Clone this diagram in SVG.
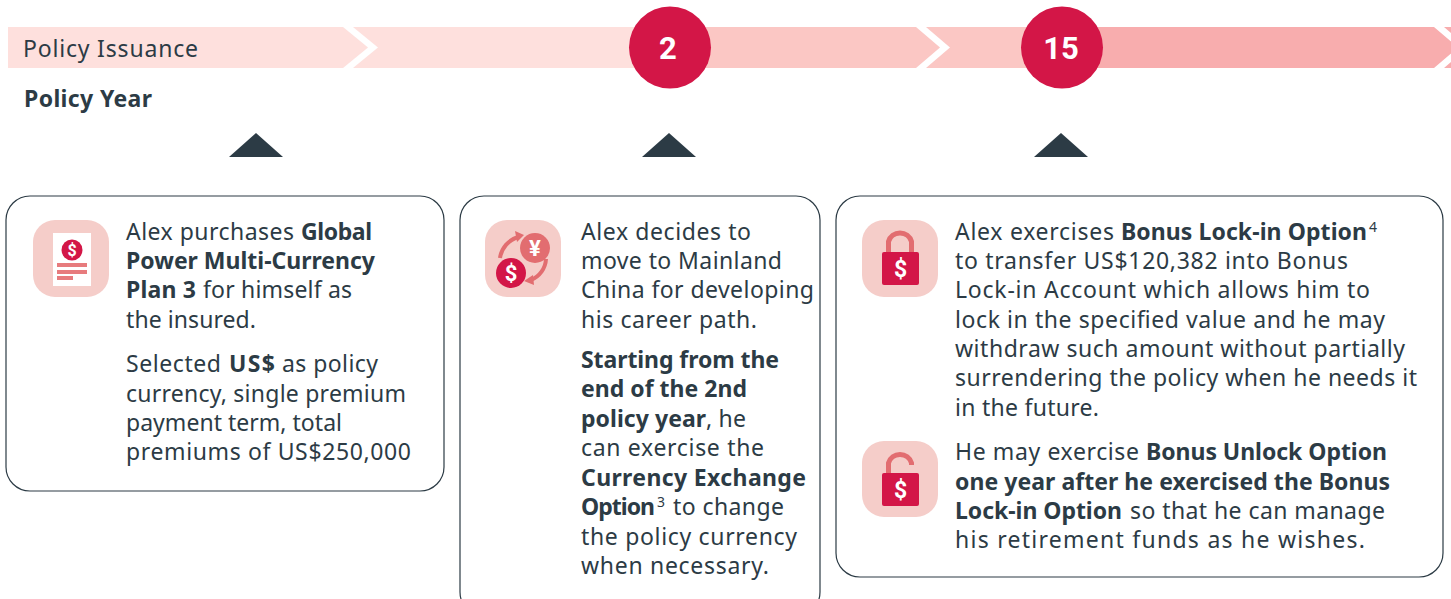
<svg xmlns="http://www.w3.org/2000/svg" width="1451" height="599" viewBox="0 0 1451 599">
<style>
text{font-family:"Noto Sans","Liberation Sans",sans-serif;fill:#2c3b45}
.t{font-size:23px}
.b{font-weight:700}
.s{font-size:14px}
.card{fill:#fff;stroke:#2c3b45;stroke-width:1.2}
.bg{fill:#f5cdc9}
.chev{fill:#fff}
.ptr{fill:#2c3b45}
.red{fill:#d31647}
.mid{fill:#e26d70}
.bar{fill:#e77b7d}
.num{font-family:Roboto,"Liberation Sans",sans-serif;font-size:31px;font-weight:700;fill:#fff;text-anchor:middle}
.d{font-family:Roboto,"Liberation Sans",sans-serif;font-weight:700;fill:#fff;text-anchor:middle}
.shk{fill:none;stroke:#e26d70;stroke-width:5}
.arc{fill:none;stroke:#e26d70;stroke-width:4}
</style>
<g id="timeline">
<rect x="8" y="27" width="662" height="41" fill="#fee0dd"/>
<rect x="670" y="27" width="392" height="41" fill="#fbc7c4"/>
<rect x="1062" y="27" width="389" height="41" fill="#f8adae"/>
<polygon class="chev" points="343,27 353,27 378,47.5 353,68 343,68 368,47.5"/>
<polygon class="chev" points="916,27 926,27 950,47.500 926,68 916,68 940,47.500"/>
<polygon class="chev" points="1434,27 1444,27 1468,47.500 1444,68 1434,68 1458,47.500"/>
<text class="t" x="23" y="57" textLength="175">Policy Issuance</text>
<text class="t b" x="24" y="107" textLength="128">Policy Year</text>
</g>
<g id="marker-2"><circle class="red" cx="670" cy="47.500" r="41"/><text class="num" x="668" y="59">2</text></g>
<g id="marker-15"><circle class="red" cx="1062" cy="47.500" r="41"/><text class="num" x="1061" y="59">15</text></g>
<g id="connectors">
<polygon class="ptr" points="229,157 256,133 283,157"/>
<polygon class="ptr" points="642,157 669,133 696,157"/>
<polygon class="ptr" points="1034,157 1061,133 1088,157"/>
</g>
<g id="card-1">
<rect class="card" x="6" y="196" width="438" height="295" rx="24"/>
<rect class="bg" x="33" y="220" width="76" height="77" rx="22"/>
<rect x="53" y="233" width="38" height="53" fill="#fff"/>
<circle class="red" cx="72" cy="250" r="10.500"/>
<text class="d" x="72" y="256" font-size="16">$</text>
<rect class="bar" x="57" y="263" width="30" height="4"/>
<rect class="bar" x="57" y="270" width="30" height="4"/>
<rect class="bar" x="57" y="276" width="16" height="4"/>
<text class="t" x="126" y="240" textLength="168">Alex purchases</text>
<text class="t b" x="301" y="240" textLength="71">Global</text>
<text class="t b" x="126" y="269" textLength="249">Power Multi-Currency</text>
<text class="t b" x="126" y="298" textLength="70">Plan 3</text>
<text class="t" x="203" y="298" textLength="149">for himself as</text>
<text class="t" x="126" y="328" textLength="130">the insured.</text>
<text class="t" x="126" y="372" textLength="95">Selected</text>
<text class="t b" x="229" y="372" textLength="46">US$</text>
<text class="t" x="282" y="372" textLength="96">as policy</text>
<text class="t" x="126" y="402" textLength="280">currency, single premium</text>
<text class="t" x="126" y="431" textLength="216">payment term, total</text>
<text class="t" x="126" y="460" textLength="285">premiums of US$250,000</text>
</g>
<g id="card-2">
<rect class="card" x="460" y="196" width="360" height="420" rx="24"/>
<rect class="bg" x="485" y="220" width="76" height="77" rx="22"/>
<path class="arc" d="M500 258A26 26 0 0 1 518 237"/>
<polygon class="mid" points="524,235 515,231 517,242"/>
<path class="arc" d="M546 259A24 24 0 0 1 531 280"/>
<polygon class="mid" points="524,281 533,275 534,285"/>
<circle class="mid" cx="535" cy="248" r="15"/>
<text class="d" x="535" y="256" font-size="22">¥</text>
<circle class="red" cx="511" cy="273" r="15"/>
<text class="d" x="511" y="281" font-size="22">$</text>
<text class="t" x="581" y="240" textLength="170">Alex decides to</text>
<text class="t" x="581" y="269" textLength="201">move to Mainland</text>
<text class="t" x="581" y="298" textLength="233">China for developing</text>
<text class="t" x="581" y="328" textLength="176">his career path.</text>
<text class="t b" x="581" y="368" textLength="198">Starting from the</text>
<text class="t b" x="581" y="397" textLength="166">end of the 2nd</text>
<text class="t b" x="581" y="427" textLength="125">policy year</text>
<text class="t" x="706" y="427" textLength="40">, he</text>
<text class="t" x="581" y="456" textLength="183">can exercise the</text>
<text class="t b" x="581" y="486" textLength="225">Currency Exchange</text>
<text class="t b" x="581" y="515" textLength="74">Option</text>
<text class="s" x="657" y="507">3</text>
<text class="t" x="673" y="515" textLength="111">to change</text>
<text class="t" x="581" y="545" textLength="216">the policy currency</text>
<text class="t" x="581" y="574" textLength="188">when necessary.</text>
</g>
<g id="card-3">
<rect class="card" x="836" y="196" width="607" height="381" rx="24"/>
<rect class="bg" x="862" y="220" width="76" height="77" rx="22"/>
<path class="shk" d="M888.500 252V241.500A12 12 0 0 1 911.500 241.500V252"/>
<rect class="red" x="882" y="252" width="37" height="33" rx="2"/>
<text class="d" x="900.500" y="277" font-size="23">$</text>
<rect class="bg" x="862" y="441" width="76" height="76" rx="22"/>
<path class="shk" d="M888.500 473V463A12 12 0 0 1 911.500 463V465"/>
<rect class="red" x="882" y="473" width="37" height="33" rx="2"/>
<text class="d" x="900.500" y="498" font-size="23">$</text>
<text class="t" x="955" y="240" textLength="159">Alex exercises</text>
<text class="t b" x="1121" y="240" textLength="246">Bonus Lock-in Option</text>
<text class="s" x="1369" y="232">4</text>
<text class="t" x="955" y="269" textLength="393">to transfer US$120,382 into Bonus</text>
<text class="t" x="955" y="298" textLength="415">Lock-in Account which allows him to</text>
<text class="t" x="955" y="328" textLength="430">lock in the specified value and he may</text>
<text class="t" x="955" y="357" textLength="450">withdraw such amount without partially</text>
<text class="t" x="955" y="386" textLength="462">surrendering the policy when he needs it</text>
<text class="t" x="955" y="416" textLength="144">in the future.</text>
<text class="t" x="955" y="460" textLength="184">He may exercise</text>
<text class="t b" x="1146" y="460" textLength="241">Bonus Unlock Option</text>
<text class="t b" x="955" y="490" textLength="435">one year after he exercised the Bonus</text>
<text class="t b" x="955" y="519" textLength="167">Lock-in Option</text>
<text class="t" x="1130" y="519" textLength="255">so that he can manage</text>
<text class="t" x="955" y="548" textLength="410">his retirement funds as he wishes.</text>
</g>
</svg>
